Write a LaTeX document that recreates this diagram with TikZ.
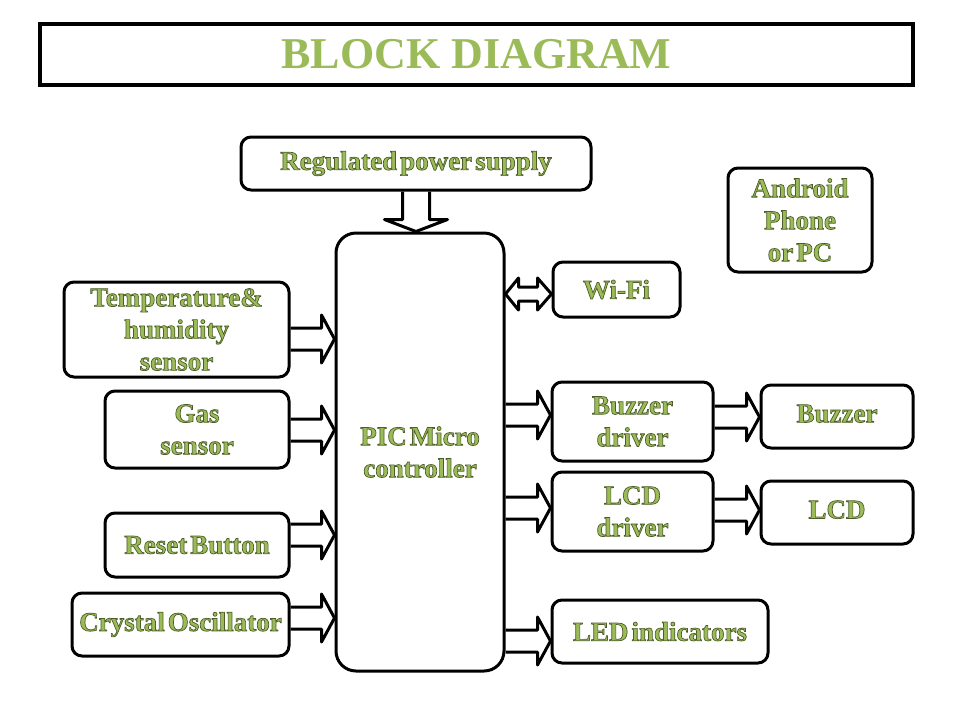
\documentclass[tikz,border=0pt]{standalone}
\usepackage{fontspec}
\setmainfont{Liberation Serif}
\newfontfamily\lblfont[WordSpace=0.45]{Liberation Serif}
\usetikzlibrary{calc}
\definecolor{tgreen}{HTML}{9BBB59}
\newcommand\olon{\special{pdf:literal direct 2 Tr 0.35 w 0.30 0.37 0.15 RG}}
\newcommand\oloff{\special{pdf:literal direct 0 Tr}}
% horizontal hollow block arrow: from node #1 (east) to node #2 (west) at y=#3
\newcommand\hblk[3]{%
  \path (#1.east |- 0,#3) coordinate (s) (#2.west |- 0,#3) coordinate (t);
  \draw[blk] ($(s)+(0,-11)$) -- ($(t)+(-13,-11)$) -- ($(t)+(-13,-24)$) -- (t)
    -- ($(t)+(-13,24)$) -- ($(t)+(-13,11)$) -- ($(s)+(0,11)$);}
\begin{document}
\begin{tikzpicture}[x=0.5pt,y=-0.5pt,
  box/.style={draw, line width=1.5pt, rounded corners=5pt, fill=white, inner sep=0pt,
    align=center, text=tgreen, font=\lblfont\bfseries\fontsize{13.5}{16}\selectfont},
  blk/.style={draw, line width=1.5pt, line join=round}]
\useasboundingbox (0,0) rectangle (960,720);
\fill[white] (0,0) rectangle (960,720);

\node[draw, line width=2pt, minimum width=436.5pt, minimum height=30.5pt, inner sep=0pt,
  text=tgreen, font=\bfseries\fontsize{22}{24}\selectfont] (title) at (476.5,54.5) {BLOCK DIAGRAM};

\node[box, minimum width=175pt, minimum height=26.5pt] (pwr) at (416,163.5) {\olon Regulated power supply\oloff};
\node[box, rounded corners=10pt, minimum width=84pt, minimum height=219pt] (pic) at (420,452) {\olon PIC Micro\\ controller\oloff};
\node[box, minimum width=72pt, minimum height=52pt] (android) at (800,220) {\olon Android\\ Phone\\ or PC\oloff};
\node[box, minimum width=63.5pt, minimum height=27.5pt] (wifi) at (616.5,289.5) {\olon Wi-Fi\oloff};
\node[box, minimum width=112.5pt, minimum height=47.5pt] (temp) at (176.5,329.5) {\olon Temperature\&\\ humidity\\ sensor\oloff};
\node[box, minimum width=92pt, minimum height=38.5pt] (gas) at (197,429.5) {\olon Gas\\ sensor\oloff};
\node[box, minimum width=92pt, minimum height=32pt] (reset) at (197,545) {\olon Reset Button\oloff};
\node[box, minimum width=108.5pt, minimum height=31.5pt] (xtal) at (180.5,624.5) {\olon Crystal Oscillator\oloff};
\node[box, minimum width=80.5pt, minimum height=39.5pt] (bdrv) at (632.5,421.5) {\olon Buzzer\\ driver\oloff};
\node[box, minimum width=76pt, minimum height=31.5pt] (buzz) at (837,416.5) {\raisebox{3pt}{\olon Buzzer\oloff}};
\node[box, minimum width=80.5pt, minimum height=39.5pt] (ldrv) at (632.5,511.5) {\olon LCD\\ driver\oloff};
\node[box, minimum width=76pt, minimum height=31.5pt] (lcd) at (837,512.5) {\raisebox{3pt}{\olon LCD\oloff}};
\node[box, minimum width=108pt, minimum height=31.5pt] (led) at (660,631.5) {\olon LED indicators\oloff};

% input arrows
\hblk{temp}{pic}{339}
\hblk{gas}{pic}{430}
\hblk{reset}{pic}{535}
\hblk{xtal}{pic}{618}
% output arrows
\hblk{pic}{bdrv}{415}
\hblk{pic}{ldrv}{508}
\hblk{pic}{led}{641}
\hblk{bdrv}{buzz}{417}
\hblk{ldrv}{lcd}{510}

% power arrow (vertical)
\path (pwr.south) coordinate (ps) (pwr.south |- pic.north) coordinate (pt);
\draw[blk] ($(ps)+(-13.5,0)$) -- ($(pt)+(-13.5,-12)$) -- ($(pt)+(-31.5,-12)$) -- (pt)
  -- ($(pt)+(31.5,-12)$) -- ($(pt)+(13.5,-12)$) -- ($(ps)+(13.5,0)$);

% Wi-Fi bidirectional arrow
\path (pic.east |- 0,294) coordinate (wa) (wifi.west |- 0,294) coordinate (wb);
\draw[blk] (wa) -- ($(wa)+(13,-16)$) -- ($(wa)+(13,-7)$) -- ($(wb)+(-14,-7)$) -- ($(wb)+(-14,-16)$)
  -- (wb) -- ($(wb)+(-14,16)$) -- ($(wb)+(-14,7)$) -- ($(wa)+(13,7)$) -- ($(wa)+(13,16)$) -- cycle;
\end{tikzpicture}
\end{document}
